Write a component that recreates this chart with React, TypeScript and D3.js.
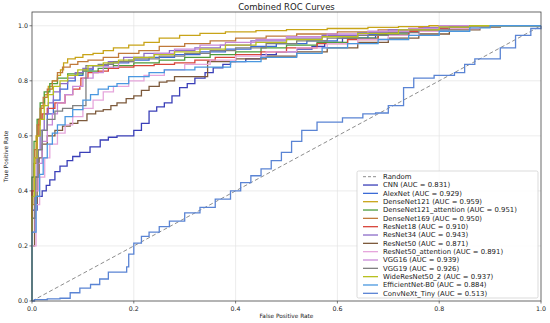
import React, { useEffect, useRef } from 'react';
import * as d3 from 'd3';

// model names, AUC and colours (legend order = draw order)
const models = [
  'CNN', 'AlexNet', 'DenseNet121', 'DenseNet121_attention', 'DenseNet169',
  'ResNet18', 'ResNet34', 'ResNet50', 'ResNet50_attention', 'VGG16',
  'VGG19', 'WideResNet50_2', 'EfficientNet-B0', 'ConvNeXt_Tiny',
];
const aucs = [0.831, 0.929, 0.959, 0.951, 0.950, 0.910, 0.943, 0.871, 0.891, 0.939, 0.926, 0.937, 0.884, 0.513];
const colors = [
  '#3a3fb8', '#3b6bd6', '#c8a418', '#4c9c3c', '#c07a3a',
  '#d8453a', '#8c6cc8', '#7d5a3c', '#e6a6dc', '#c98ad8',
  '#808080', '#b8c020', '#4a98e0', '#5a84d4',
];

// ROC points [fpr, tpr]
const cnn = [[0,0],[0,0.33],[0.01,0.38],[0.02,0.4],[0.028,0.42],[0.035,0.44],[0.045,0.47],[0.055,0.49],[0.069,0.51],[0.08,0.525],[0.094,0.54],[0.114,0.56],[0.134,0.585],[0.15,0.595],[0.167,0.6],[0.2,0.62],[0.215,0.645],[0.23,0.69],[0.245,0.705],[0.26,0.72],[0.275,0.745],[0.29,0.775],[0.305,0.79],[0.32,0.81],[0.34,0.83],[0.356,0.847],[0.375,0.86],[0.39,0.87],[0.42,0.88],[0.45,0.895],[0.48,0.905],[0.52,0.915],[0.55,0.925],[0.575,0.94],[0.61,0.955],[0.675,0.965],[0.74,0.98],[0.82,0.996],[0.86,1],[1,1]];
const alexnet = [[0,0],[0,0.3],[0.006,0.45],[0.012,0.55],[0.02,0.62],[0.03,0.68],[0.042,0.73],[0.055,0.77],[0.07,0.8],[0.085,0.82],[0.1,0.84],[0.12,0.855],[0.15,0.865],[0.19,0.875],[0.23,0.885],[0.28,0.895],[0.33,0.905],[0.38,0.915],[0.43,0.925],[0.48,0.935],[0.54,0.945],[0.6,0.955],[0.66,0.968],[0.72,0.98],[0.78,0.99],[0.84,1],[1,1]];
const densenet121 = [[0,0],[0,0.35],[0.004,0.5],[0.008,0.6],[0.012,0.66],[0.018,0.71],[0.025,0.75],[0.032,0.78],[0.04,0.8],[0.05,0.82],[0.056,0.84],[0.062,0.865],[0.07,0.88],[0.085,0.885],[0.1,0.895],[0.12,0.9],[0.14,0.91],[0.16,0.92],[0.19,0.93],[0.22,0.94],[0.25,0.955],[0.29,0.965],[0.33,0.972],[0.38,0.978],[0.44,0.982],[0.5,0.986],[0.58,0.99],[0.66,0.994],[0.72,0.997],[0.78,1],[1,1]];
const densenet121Att = [[0,0],[0,0.45],[0.004,0.58],[0.01,0.66],[0.016,0.72],[0.024,0.76],[0.035,0.79],[0.05,0.81],[0.07,0.825],[0.1,0.835],[0.13,0.845],[0.16,0.855],[0.2,0.865],[0.25,0.875],[0.3,0.885],[0.35,0.895],[0.4,0.905],[0.45,0.92],[0.5,0.93],[0.56,0.94],[0.62,0.955],[0.68,0.97],[0.74,0.985],[0.8,0.995],[0.86,1],[1,1]];
const densenet169 = [[0,0],[0,0.4],[0.005,0.55],[0.01,0.64],[0.016,0.7],[0.022,0.74],[0.03,0.77],[0.04,0.8],[0.05,0.83],[0.06,0.85],[0.075,0.86],[0.09,0.87],[0.11,0.875],[0.14,0.885],[0.17,0.9],[0.21,0.91],[0.25,0.925],[0.3,0.935],[0.35,0.945],[0.4,0.955],[0.46,0.962],[0.52,0.97],[0.6,0.978],[0.68,0.985],[0.76,0.993],[0.83,1],[1,1]];
const resnet18 = [[0,0],[0,0.4],[0.005,0.52],[0.01,0.6],[0.014,0.66],[0.02,0.68],[0.03,0.7],[0.045,0.72],[0.065,0.75],[0.08,0.77],[0.094,0.78],[0.096,0.81],[0.11,0.83],[0.13,0.835],[0.15,0.845],[0.17,0.85],[0.2,0.855],[0.24,0.86],[0.28,0.865],[0.32,0.875],[0.36,0.885],[0.4,0.895],[0.45,0.905],[0.5,0.92],[0.56,0.935],[0.62,0.95],[0.68,0.965],[0.74,0.98],[0.8,0.99],[0.86,1],[1,1]];
const resnet34 = [[0,0],[0,0.3],[0.005,0.45],[0.01,0.55],[0.016,0.62],[0.024,0.68],[0.032,0.72],[0.042,0.76],[0.055,0.79],[0.07,0.81],[0.085,0.83],[0.1,0.845],[0.12,0.855],[0.15,0.87],[0.18,0.885],[0.22,0.9],[0.27,0.91],[0.32,0.92],[0.37,0.93],[0.43,0.945],[0.5,0.955],[0.57,0.965],[0.64,0.975],[0.7,0.985],[0.77,0.993],[0.84,1],[1,1]];
const resnet50 = [[0,0],[0,0.2],[0.005,0.35],[0.01,0.45],[0.014,0.52],[0.02,0.57],[0.03,0.6],[0.045,0.62],[0.06,0.635],[0.075,0.645],[0.09,0.655],[0.108,0.68],[0.125,0.69],[0.14,0.695],[0.155,0.71],[0.167,0.72],[0.185,0.735],[0.2,0.745],[0.215,0.765],[0.23,0.78],[0.25,0.795],[0.265,0.8],[0.28,0.815],[0.345,0.83],[0.345,0.87],[0.4,0.88],[0.46,0.89],[0.52,0.905],[0.58,0.92],[0.64,0.94],[0.7,0.955],[0.76,0.97],[0.82,0.985],[0.88,0.995],[0.92,1],[1,1]];
const resnet50Att = [[0,0],[0,0.2],[0.008,0.35],[0.015,0.45],[0.025,0.52],[0.035,0.57],[0.05,0.61],[0.065,0.64],[0.08,0.67],[0.1,0.7],[0.12,0.73],[0.14,0.76],[0.16,0.78],[0.19,0.8],[0.22,0.82],[0.26,0.84],[0.3,0.86],[0.35,0.875],[0.4,0.89],[0.46,0.905],[0.52,0.92],[0.58,0.935],[0.64,0.95],[0.7,0.965],[0.76,0.98],[0.82,0.99],[0.88,1],[1,1]];
const vgg16 = [[0,0],[0,0.25],[0.006,0.4],[0.012,0.5],[0.02,0.58],[0.03,0.64],[0.04,0.68],[0.05,0.72],[0.065,0.75],[0.08,0.78],[0.1,0.81],[0.12,0.83],[0.14,0.85],[0.17,0.87],[0.2,0.885],[0.24,0.9],[0.28,0.915],[0.33,0.93],[0.38,0.94],[0.44,0.95],[0.5,0.96],[0.58,0.97],[0.66,0.98],[0.74,0.99],[0.8,1],[1,1]];
const vgg19 = [[0,0],[0,0.3],[0.006,0.45],[0.012,0.55],[0.02,0.62],[0.03,0.66],[0.045,0.69],[0.06,0.7],[0.08,0.71],[0.106,0.72],[0.106,0.855],[0.13,0.86],[0.16,0.87],[0.2,0.88],[0.25,0.89],[0.3,0.9],[0.35,0.91],[0.4,0.92],[0.46,0.935],[0.52,0.945],[0.58,0.955],[0.64,0.965],[0.7,0.975],[0.76,0.985],[0.82,0.995],[0.86,1],[1,1]];
const wideResnet = [[0,0],[0,0.38],[0.005,0.52],[0.01,0.6],[0.016,0.66],[0.024,0.71],[0.032,0.75],[0.042,0.78],[0.055,0.8],[0.07,0.82],[0.09,0.84],[0.11,0.855],[0.14,0.865],[0.17,0.875],[0.2,0.885],[0.24,0.895],[0.28,0.905],[0.33,0.915],[0.38,0.93],[0.44,0.94],[0.5,0.95],[0.57,0.96],[0.64,0.972],[0.72,0.985],[0.8,0.995],[0.86,1],[1,1]];
const efficientnet = [[0,0],[0,0.25],[0.008,0.38],[0.015,0.46],[0.022,0.52],[0.03,0.57],[0.04,0.61],[0.05,0.64],[0.065,0.67],[0.08,0.695],[0.1,0.73],[0.115,0.75],[0.13,0.77],[0.15,0.78],[0.167,0.79],[0.19,0.815],[0.23,0.83],[0.26,0.84],[0.32,0.85],[0.39,0.87],[0.45,0.885],[0.52,0.9],[0.57,0.92],[0.62,0.935],[0.68,0.95],[0.74,0.965],[0.8,0.98],[0.86,0.992],[0.9,1],[1,1]];
const convnext = [[0,0],[0.005,0.005],[0.03,0.008],[0.055,0.01],[0.075,0.03],[0.094,0.047],[0.115,0.06],[0.133,0.08],[0.15,0.105],[0.186,0.124],[0.19,0.17],[0.2,0.21],[0.215,0.235],[0.23,0.25],[0.25,0.27],[0.27,0.29],[0.3,0.32],[0.33,0.34],[0.36,0.37],[0.39,0.4],[0.41,0.43],[0.43,0.455],[0.45,0.48],[0.47,0.51],[0.49,0.54],[0.51,0.58],[0.53,0.62],[0.56,0.65],[0.61,0.665],[0.65,0.68],[0.675,0.683],[0.7,0.71],[0.73,0.73],[0.73,0.775],[0.75,0.81],[0.79,0.82],[0.83,0.83],[0.85,0.86],[0.87,0.88],[0.92,0.92],[0.95,0.965],[0.98,0.99],[1,1]];

const curves = [cnn, alexnet, densenet121, densenet121Att, densenet169, resnet18, resnet34, resnet50, resnet50Att, vgg16, vgg19, wideResnet, efficientnet, convnext];
const ticks = [0, 0.2, 0.4, 0.6, 0.8, 1.0];

const W = 550;
const H = 323;
const font = 'DejaVu Sans, sans-serif';

const App = () => {
  const ref = useRef<SVGSVGElement>(null);

  useEffect(() => {
    const svg = d3.select(ref.current);
    svg.selectAll('*').remove();

    const left = 32, right = 541, top = 12, bottom = 301;
    const x = d3.scaleLinear().domain([0, 1]).range([left, right]);
    const y = d3.scaleLinear().domain([0, 1.05]).range([bottom, top]);

    svg.append('rect').attr('width', W).attr('height', H).attr('fill', '#fff');

    // grid
    const g = svg.append('g');
    g.selectAll('.gx').data(ticks.slice(1, 5)).enter().append('line')
      .attr('x1', d => x(d)).attr('x2', d => x(d)).attr('y1', top).attr('y2', bottom)
      .attr('stroke', '#e4e4e4').attr('stroke-width', 0.7);
    g.selectAll('.gy').data(ticks.slice(1)).enter().append('line')
      .attr('x1', left).attr('x2', right).attr('y1', d => y(d)).attr('y2', d => y(d))
      .attr('stroke', '#e4e4e4').attr('stroke-width', 0.7);

    // random baseline
    svg.append('line')
      .attr('x1', x(0)).attr('y1', y(0)).attr('x2', x(1)).attr('y2', y(1))
      .attr('stroke', '#808080').attr('stroke-width', 0.9).attr('stroke-dasharray', '4,2.5');

    const line = d3.line<number[]>()
      .x(d => x(d[0]))
      .y(d => y(d[1]))
      .curve(d3.curveStepAfter);

    svg.append('g').selectAll('path').data(curves).enter().append('path')
      .attr('d', d => line(d))
      .attr('fill', 'none')
      .attr('stroke', (d, i) => colors[i])
      .attr('stroke-width', 1.3);

    // frame
    svg.append('rect')
      .attr('x', left).attr('y', top).attr('width', right - left).attr('height', bottom - top)
      .attr('fill', 'none').attr('stroke', '#444').attr('stroke-width', 0.8);

    // ticks
    const tx = svg.append('g');
    ticks.forEach(t => {
      tx.append('line').attr('x1', x(t)).attr('x2', x(t)).attr('y1', bottom).attr('y2', bottom + 2.5)
        .attr('stroke', '#444').attr('stroke-width', 0.7);
      tx.append('text').attr('x', x(t)).attr('y', bottom + 10).attr('text-anchor', 'middle')
        .attr('font-family', font).attr('font-size', 6.3).attr('fill', '#222').text(t.toFixed(1));
      tx.append('line').attr('x1', left - 2.5).attr('x2', left).attr('y1', y(t)).attr('y2', y(t))
        .attr('stroke', '#444').attr('stroke-width', 0.7);
      tx.append('text').attr('x', left - 4).attr('y', y(t) + 2.2).attr('text-anchor', 'end')
        .attr('font-family', font).attr('font-size', 6.3).attr('fill', '#222').text(t.toFixed(1));
    });

    svg.append('text').attr('x', (left + right) / 2).attr('y', 318).attr('text-anchor', 'middle')
      .attr('font-family', font).attr('font-size', 5.8).attr('fill', '#222').text('False Positive Rate');
    svg.append('text').attr('transform', `translate(8,${(top + bottom) / 2}) rotate(-90)`)
      .attr('text-anchor', 'middle')
      .attr('font-family', font).attr('font-size', 5.8).attr('fill', '#222').text('True Positive Rate');
    svg.append('text').attr('x', (left + right) / 2).attr('y', 9.5).attr('text-anchor', 'middle')
      .attr('font-family', font).attr('font-size', 8.5).attr('fill', '#222').text('Combined ROC Curves');

    // legend
    const lx = 357, ly = 171, lw = 181, lh = 127, step = 8.33;
    const leg = svg.append('g');
    leg.append('rect').attr('x', lx).attr('y', ly).attr('width', lw).attr('height', lh)
      .attr('fill', '#fff').attr('fill-opacity', 0.85).attr('stroke', '#ccc').attr('stroke-width', 0.7).attr('rx', 1.5);
    const items = [{ label: 'Random', color: '#808080', dash: true }].concat(
      models.map((m, i) => ({ label: `${m} (AUC = ${aucs[i].toFixed(3)})`, color: colors[i], dash: false }))
    );
    items.forEach((it, i) => {
      const yy = ly + 5.7 + i * step;
      leg.append('line').attr('x1', lx + 6).attr('x2', lx + 21).attr('y1', yy).attr('y2', yy)
        .attr('stroke', it.color).attr('stroke-width', it.dash ? 0.9 : 1.3)
        .attr('stroke-dasharray', it.dash ? '3,2' : null);
      leg.append('text').attr('x', lx + 26).attr('y', yy + 2.3)
        .attr('font-family', font).attr('font-size', 6.9).attr('fill', '#222').text(it.label);
    });
  }, []);

  return (
    <div style={{ position: 'absolute', left: 0, top: 0 }}>
      <svg ref={ref} width={W} height={H} style={{ display: 'block' }}></svg>
    </div>
  );
};

export default App;
